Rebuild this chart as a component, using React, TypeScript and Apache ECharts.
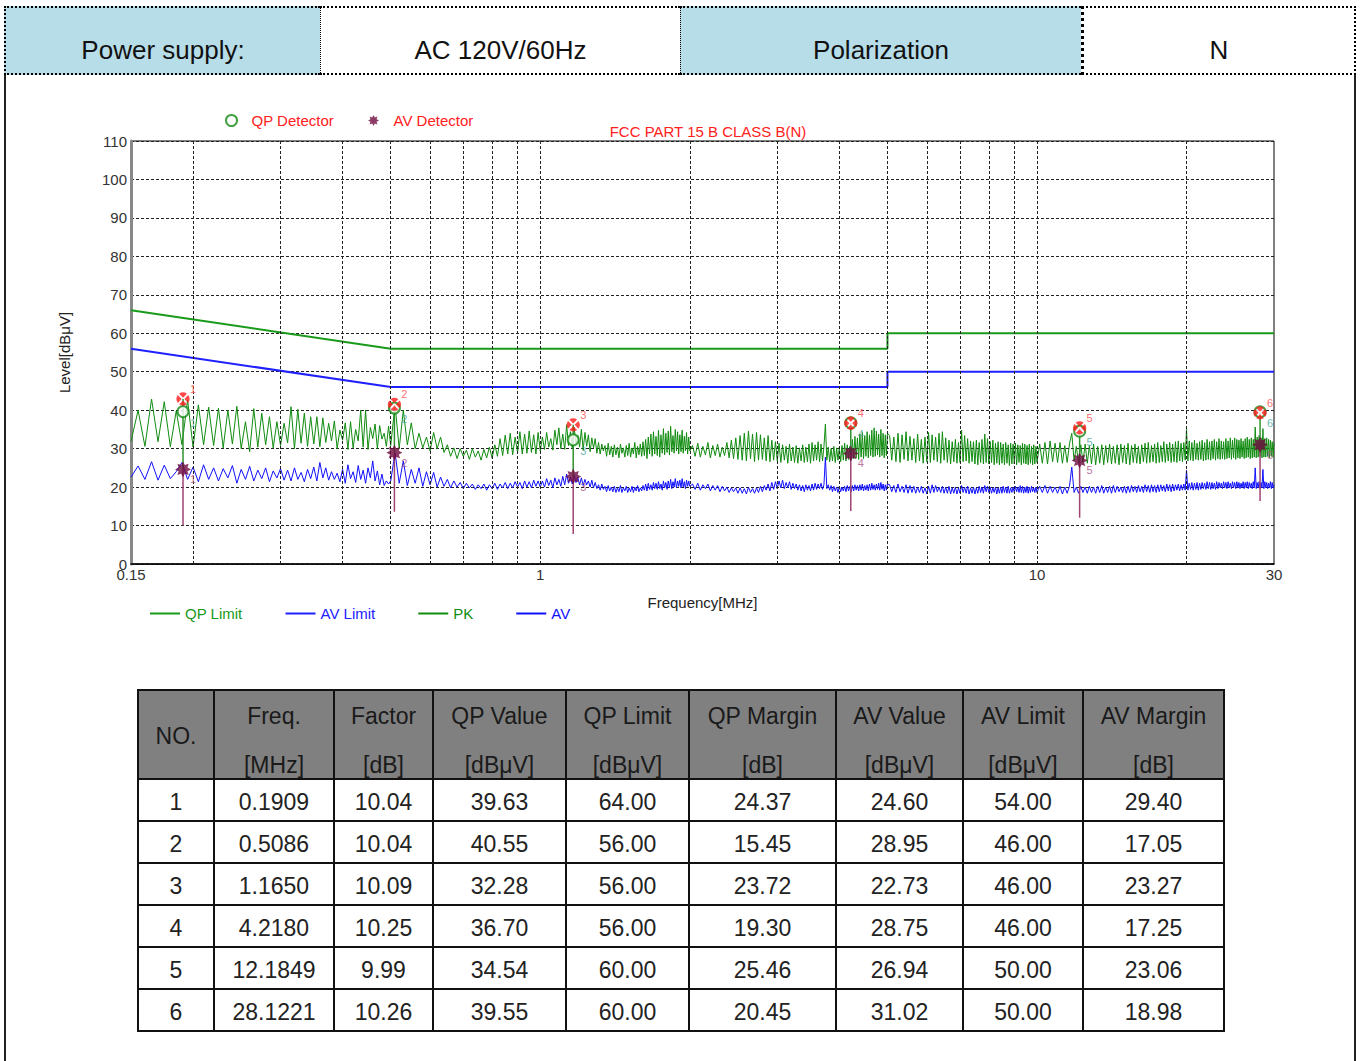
import React, { useEffect, useRef } from "react";
import * as echarts from "echarts";

const FONT = '"Liberation Sans", Arial, sans-serif';

// ---------- header ----------
const HEADER_TEXTS = ["Power supply:", "AC 120V/60Hz", "Polarization", "N"];

// ---------- chart data ----------
const CHART_TITLE = "FCC PART 15 B CLASS B(N)";
const GRID_FREQ = [0.2, 0.3, 0.4, 0.5, 0.6, 0.7, 0.8, 0.9, 1, 2, 3, 4, 5, 6, 7, 8, 9, 10, 20];

const LIMIT_FREQ = [0.15, 0.5, 5, 5, 30];
const QP_LIMIT_LEVEL = [66, 56, 56, 60, 60];
const AV_LIMIT_LEVEL = [56, 46, 46, 50, 50];

const FREQ_A = [
  0.150, 0.155, 0.160, 0.165, 0.170, 0.175, 0.180, 0.185, 0.190, 0.195,
  0.200, 0.205, 0.210, 0.215, 0.220, 0.225, 0.230, 0.235, 0.240, 0.245,
  0.250, 0.255, 0.260, 0.265, 0.270, 0.275, 0.280, 0.285, 0.290, 0.295,
  0.300, 0.305, 0.310, 0.315, 0.320, 0.325, 0.330, 0.335, 0.340, 0.345,
  0.350, 0.355, 0.360, 0.365, 0.370, 0.375, 0.380, 0.385, 0.390, 0.395,
  0.400, 0.405, 0.410, 0.415, 0.420, 0.425, 0.430, 0.435, 0.440, 0.445,
  0.450, 0.455, 0.460, 0.465, 0.470, 0.475, 0.480, 0.485, 0.490, 0.495,
  0.500,
];
const PK_A = [
  31.8, 40.0, 30.6, 42.9, 31.8, 42.2, 30.5, 39.8, 31.0, 42.6,
  30.4, 41.4, 31.0, 40.8, 30.8, 40.5, 30.2, 40.0, 31.2, 41.0,
  30.0, 37.0, 29.2, 40.4, 30.4, 39.2, 31.0, 38.3, 30.2, 37.0,
  30.8, 36.6, 31.5, 40.9, 30.0, 40.2, 31.4, 39.2, 30.6, 38.3,
  31.2, 38.3, 30.5, 38.0, 31.6, 36.6, 32.0, 37.2, 30.0, 34.8,
  32.2, 36.7, 29.8, 37.0, 30.2, 35.0, 32.0, 40.0, 30.4, 40.0,
  29.8, 35.5, 32.6, 36.4, 30.0, 36.0, 32.5, 34.0, 30.6, 35.8,
  30.8,
];
const AV_A = [
  22.6, 25.5, 22.0, 26.6, 21.8, 25.7, 22.2, 24.0, 26.4, 22.0,
  25.2, 21.4, 25.8, 22.0, 25.0, 21.6, 24.8, 22.4, 25.6, 21.0,
  24.6, 22.0, 25.4, 21.6, 24.4, 22.2, 25.0, 21.4, 24.2, 22.4,
  24.8, 21.8, 24.4, 21.6, 25.0, 22.0, 23.8, 21.4, 24.6, 22.2,
  25.2, 21.6, 26.4, 22.4, 25.0, 21.8, 24.0, 22.0, 23.6, 21.4,
  24.6, 21.0, 25.8, 22.2, 24.0, 21.2, 25.6, 22.0, 24.4, 21.0,
  25.0, 22.4, 26.8, 21.6, 24.2, 20.6, 23.4, 20.4, 21.6, 20.8,
  21.6,
];

const FREQ_B = [
  0.51, 0.52, 0.53, 0.54, 0.55, 0.56, 0.57, 0.58, 0.59, 0.60,
  0.61, 0.62, 0.63, 0.64, 0.65, 0.66, 0.67, 0.68, 0.69, 0.70,
  0.71, 0.72, 0.73, 0.74, 0.75, 0.76, 0.77, 0.78, 0.79, 0.80,
  0.81, 0.82, 0.83, 0.84, 0.85, 0.86, 0.87, 0.88, 0.89, 0.90,
  0.91, 0.92, 0.93, 0.94, 0.95, 0.96, 0.97, 0.98, 0.99, 1.00,
];
const PK_B = [
  41.4, 30.0, 40.0, 31.0, 36.7, 30.0, 34.0, 30.2, 33.0, 29.4,
  34.2, 30.0, 33.0, 29.0, 31.0, 28.0, 30.2, 27.4, 30.0, 28.0,
  29.6, 27.2, 30.0, 27.8, 29.4, 27.0, 29.8, 27.6, 30.4, 27.5,
  31.0, 28.0, 32.6, 28.2, 33.5, 28.6, 34.0, 28.4, 33.0, 29.0,
  34.4, 28.6, 33.8, 28.8, 34.6, 29.0, 33.6, 28.6, 34.2, 29.4,
];
const AV_B = [
  28.9, 21.0, 26.8, 20.4, 24.6, 21.0, 25.0, 20.2, 24.0, 20.6,
  23.8, 20.0, 22.6, 20.2, 22.0, 19.8, 21.6, 20.0, 21.2, 19.6,
  21.0, 19.8, 20.8, 19.4, 20.6, 19.6, 20.8, 19.2, 20.6, 19.6,
  21.0, 19.4, 20.8, 19.8, 21.2, 19.6, 21.0, 19.8, 21.4, 20.0,
  21.2, 19.6, 21.6, 20.0, 21.4, 19.8, 21.8, 20.2, 21.6, 20.0,
];

const FREQ_C = [
  1.01, 1.02, 1.03, 1.04, 1.05, 1.06, 1.07, 1.08, 1.09, 1.10,
  1.11, 1.12, 1.13, 1.14, 1.15, 1.16, 1.17, 1.18, 1.19, 1.20,
  1.21, 1.22, 1.23, 1.24, 1.25, 1.26, 1.27, 1.28, 1.29, 1.30,
  1.31, 1.32, 1.33, 1.34, 1.35, 1.36, 1.37, 1.38, 1.39, 1.40,
  1.41, 1.42, 1.43, 1.44, 1.45, 1.46, 1.47, 1.48, 1.49, 1.50,
  1.51, 1.52, 1.53, 1.54, 1.55, 1.56, 1.57, 1.58, 1.59, 1.60,
  1.61, 1.62, 1.63, 1.64, 1.65, 1.66, 1.67, 1.68, 1.69, 1.70,
  1.71, 1.72, 1.73, 1.74, 1.75, 1.76, 1.77, 1.78, 1.79, 1.80,
  1.81, 1.82, 1.83, 1.84, 1.85, 1.86, 1.87, 1.88, 1.89, 1.90,
  1.91, 1.92, 1.93, 1.94, 1.95, 1.96, 1.97, 1.98, 1.99, 2.00,
];
const PK_C = [
  33.0, 29.8, 34.2, 30.4, 32.6, 29.6, 34.8, 31.0, 35.4, 30.0,
  33.8, 29.8, 36.2, 30.8, 34.4, 30.2, 35.6, 31.2, 33.4, 30.4,
  35.0, 29.6, 34.2, 30.6, 33.6, 29.2, 32.8, 30.2, 32.6, 28.8,
  31.6, 28.6, 31.2, 29.4, 30.8, 28.0, 31.4, 28.4, 30.6, 27.8,
  31.0, 28.4, 30.4, 27.6, 31.2, 28.8, 30.2, 27.8, 30.8, 28.2,
  31.4, 27.8, 30.2, 28.6, 31.6, 27.6, 30.6, 28.4, 31.2, 28.0,
  31.8, 28.2, 32.4, 27.4, 33.0, 28.6, 33.8, 28.0, 34.4, 28.6,
  33.2, 28.2, 34.8, 27.8, 33.6, 28.8, 35.2, 28.4, 34.0, 29.0,
  34.6, 28.4, 35.8, 29.2, 33.4, 28.8, 35.0, 29.4, 34.4, 28.6,
  33.6, 29.2, 34.8, 28.8, 33.2, 29.4, 34.2, 28.6, 33.0, 29.4,
];
const AV_C = [
  21.6, 20.0, 22.2, 20.4, 21.8, 19.8, 22.4, 20.6, 22.0, 20.2,
  22.8, 20.6, 23.4, 21.0, 22.6, 20.8, 23.2, 21.2, 22.6, 20.6,
  22.4, 20.4, 22.0, 20.6, 21.6, 20.0, 21.8, 19.8, 21.2, 19.6,
  20.6, 19.2, 20.8, 19.4, 20.2, 18.8, 20.4, 19.0, 20.0, 18.8,
  20.2, 18.6, 19.8, 18.8, 20.4, 18.6, 19.8, 19.0, 20.2, 18.6,
  19.8, 18.8, 20.2, 18.6, 20.0, 19.0, 20.4, 18.8, 19.8, 19.0,
  20.4, 19.2, 20.8, 19.0, 21.0, 19.4, 20.6, 19.2, 21.2, 19.6,
  21.0, 19.4, 21.4, 19.6, 20.8, 19.2, 21.6, 19.8, 21.2, 19.4,
  21.6, 19.8, 22.0, 19.6, 21.4, 20.0, 22.2, 19.8, 21.6, 20.2,
  21.8, 19.8, 22.2, 20.0, 21.4, 19.6, 21.8, 20.2, 21.6, 20.2,
];

const FREQ_D = [
  2.025, 2.050, 2.075, 2.100, 2.125, 2.150, 2.175, 2.200, 2.225, 2.250,
  2.275, 2.300, 2.325, 2.350, 2.375, 2.400, 2.425, 2.450, 2.475, 2.500,
  2.525, 2.550, 2.575, 2.600, 2.625, 2.650, 2.675, 2.700, 2.725, 2.750,
  2.775, 2.800, 2.825, 2.850, 2.875, 2.900, 2.925, 2.950, 2.975, 3.000,
  3.025, 3.050, 3.075, 3.100, 3.125, 3.150, 3.175, 3.200, 3.225, 3.250,
  3.275, 3.300, 3.325, 3.350, 3.375, 3.400, 3.425, 3.450, 3.475, 3.500,
  3.525, 3.550, 3.575, 3.600, 3.625, 3.650, 3.675, 3.700, 3.725, 3.750,
  3.775, 3.800, 3.825, 3.850, 3.875, 3.900, 3.925, 3.950, 3.975, 4.000,
  4.025, 4.050, 4.075, 4.100, 4.125, 4.150, 4.175, 4.200, 4.225, 4.250,
  4.275, 4.300, 4.325, 4.350, 4.375, 4.400, 4.425, 4.450, 4.475, 4.500,
  4.525, 4.550, 4.575, 4.600, 4.625, 4.650, 4.675, 4.700, 4.725, 4.750,
  4.775, 4.800, 4.825, 4.850, 4.875, 4.900, 4.925, 4.950, 4.975, 5.000,
];
const PK_D = [
  30.8, 28.0, 31.4, 27.8, 30.6, 28.4, 31.6, 27.6, 30.8, 28.2,
  31.2, 27.8, 30.4, 28.2, 31.6, 27.6, 32.2, 27.4, 32.8, 27.2,
  33.4, 27.0, 34.0, 26.8, 34.6, 27.4, 33.8, 26.6, 34.2, 27.0,
  33.6, 27.2, 32.8, 26.8, 33.4, 26.6, 32.2, 27.0, 31.8, 26.8,
  31.4, 26.4, 31.0, 27.0, 30.6, 26.2, 31.2, 26.8, 30.4, 26.4,
  30.8, 26.2, 30.2, 26.8, 31.0, 26.4, 30.4, 26.6, 31.2, 26.2,
  31.6, 26.8, 31.0, 27.0, 31.8, 26.6, 31.2, 26.8, 30.6, 36.4,
  27.0, 30.4, 26.6, 30.0, 26.8, 30.6, 26.4, 30.2, 27.0, 30.4,
  26.6, 30.8, 27.0, 31.4, 26.8, 31.0, 27.2, 30.6, 27.0, 32.4,
  27.4, 33.2, 27.6, 32.8, 27.2, 33.8, 27.8, 34.2, 27.4, 33.4,
  28.0, 34.4, 27.6, 33.6, 28.2, 34.8, 27.8, 35.4, 28.0, 34.6,
  28.4, 33.8, 27.8, 35.0, 28.2, 34.0, 27.6, 33.6, 28.2, 34.0,
];
const AV_D = [
  20.8, 19.4, 21.0, 19.2, 20.6, 19.6, 20.8, 19.0, 20.4, 19.2,
  20.4, 18.8, 20.2, 19.0, 20.0, 18.6, 19.8, 18.8, 19.8, 18.4,
  19.8, 18.4, 19.6, 18.2, 20.0, 18.6, 19.6, 18.4, 19.8, 18.6,
  20.2, 18.8, 20.4, 19.2, 20.8, 19.0, 21.2, 19.4, 21.4, 19.6,
  21.6, 19.8, 21.8, 19.6, 21.2, 19.8, 21.4, 19.4, 21.0, 19.6,
  20.8, 19.2, 20.6, 19.0, 20.4, 18.8, 20.6, 19.2, 20.4, 19.0,
  20.8, 19.2, 21.0, 19.4, 20.8, 19.6, 21.0, 19.4, 20.6, 27.8,
  19.6, 20.6, 19.2, 20.4, 18.8, 20.2, 19.0, 20.0, 18.6, 20.2,
  18.8, 20.0, 19.0, 20.2, 18.8, 20.4, 19.0, 20.2, 18.8, 20.4,
  19.0, 20.6, 19.2, 20.4, 19.0, 20.6, 19.2, 20.8, 19.0, 20.4,
  19.2, 20.6, 19.0, 20.8, 19.2, 21.0, 19.4, 20.6, 19.2, 20.8,
  19.4, 21.0, 19.2, 21.2, 19.4, 20.8, 19.0, 20.6, 19.2, 20.8,
];

const FREQ_E = [
  5.05, 5.10, 5.15, 5.20, 5.25, 5.30, 5.35, 5.40, 5.45, 5.50,
  5.55, 5.60, 5.65, 5.70, 5.75, 5.80, 5.85, 5.90, 5.95, 6.00,
  6.05, 6.10, 6.15, 6.20, 6.25, 6.30, 6.35, 6.40, 6.45, 6.50,
  6.55, 6.60, 6.65, 6.70, 6.75, 6.80, 6.85, 6.90, 6.95, 7.00,
  7.05, 7.10, 7.15, 7.20, 7.25, 7.30, 7.35, 7.40, 7.45, 7.50,
  7.55, 7.60, 7.65, 7.70, 7.75, 7.80, 7.85, 7.90, 7.95, 8.00,
  8.05, 8.10, 8.15, 8.20, 8.25, 8.30, 8.35, 8.40, 8.45, 8.50,
  8.55, 8.60, 8.65, 8.70, 8.75, 8.80, 8.85, 8.90, 8.95, 9.00,
  9.05, 9.10, 9.15, 9.20, 9.25, 9.30, 9.35, 9.40, 9.45, 9.50,
  9.55, 9.60, 9.65, 9.70, 9.75, 9.80, 9.85, 9.90, 9.95, 10.00,
];
const PK_E = [
  33.4, 27.0, 33.0, 26.6, 34.0, 26.4, 33.6, 27.2, 34.4, 26.8,
  33.2, 27.0, 32.6, 26.4, 33.8, 26.8, 32.4, 26.2, 33.0, 26.6,
  34.2, 26.4, 33.6, 27.0, 33.0, 26.6, 34.0, 26.2, 34.4, 27.0,
  32.8, 26.4, 32.2, 26.0, 31.8, 26.6, 32.4, 26.2, 31.6, 26.4,
  34.8, 26.6, 33.4, 26.8, 32.6, 26.2, 32.0, 26.6, 31.8, 26.0,
  32.2, 25.8, 31.6, 26.4, 32.4, 26.0, 33.8, 26.4, 32.6, 26.0,
  31.8, 26.4, 32.2, 25.8, 31.4, 26.2, 31.8, 25.8, 31.6, 26.2,
  31.2, 25.8, 31.6, 26.2, 31.0, 25.6, 31.4, 26.0, 31.2, 26.0,
  31.4, 25.8, 31.0, 26.4, 30.8, 25.8, 31.4, 26.2, 31.2, 26.0,
  30.8, 25.8, 31.2, 26.2, 30.6, 25.8, 31.0, 26.0, 30.6, 26.4,
];
const AV_E = [
  20.6, 18.8, 20.4, 18.6, 20.8, 18.8, 20.2, 18.6, 20.6, 18.4,
  20.4, 18.6, 20.2, 18.4, 20.0, 18.6, 20.2, 18.4, 19.8, 18.2,
  20.2, 18.4, 20.6, 18.6, 20.4, 18.8, 20.0, 18.6, 20.2, 18.4,
  20.0, 18.4, 20.2, 18.2, 19.8, 18.4, 20.0, 18.2, 19.8, 18.4,
  20.4, 18.6, 20.0, 18.4, 20.2, 18.2, 19.8, 18.4, 20.0, 18.2,
  19.8, 18.4, 20.2, 18.6, 20.0, 18.4, 20.4, 18.8, 20.2, 18.6,
  20.0, 18.4, 19.8, 18.6, 20.0, 18.2, 19.8, 18.4, 20.0, 18.4,
  20.2, 18.6, 20.0, 18.4, 20.2, 18.4, 19.8, 18.6, 20.0, 18.6,
  20.2, 18.8, 20.0, 18.6, 20.4, 18.6, 20.2, 18.4, 20.0, 18.6,
  20.2, 18.4, 20.0, 18.6, 20.2, 18.8, 19.8, 18.6, 20.0, 18.6,
];

const FREQ_F = [
  10.125, 10.250, 10.375, 10.500, 10.625, 10.750, 10.875, 11.000, 11.125, 11.250,
  11.375, 11.500, 11.625, 11.750, 11.875, 12.000, 12.125, 12.250, 12.375, 12.500,
  12.625, 12.750, 12.875, 13.000, 13.125, 13.250, 13.375, 13.500, 13.625, 13.750,
  13.875, 14.000, 14.125, 14.250, 14.375, 14.500, 14.625, 14.750, 14.875, 15.000,
  15.125, 15.250, 15.375, 15.500, 15.625, 15.750, 15.875, 16.000, 16.125, 16.250,
  16.375, 16.500, 16.625, 16.750, 16.875, 17.000, 17.125, 17.250, 17.375, 17.500,
  17.625, 17.750, 17.875, 18.000, 18.125, 18.250, 18.375, 18.500, 18.625, 18.750,
  18.875, 19.000, 19.125, 19.250, 19.375, 19.500, 19.625, 19.750, 19.875, 20.000,
  20.125, 20.250, 20.375, 20.500, 20.625, 20.750, 20.875, 21.000, 21.125, 21.250,
  21.375, 21.500, 21.625, 21.750, 21.875, 22.000, 22.125, 22.250, 22.375, 22.500,
  22.625, 22.750, 22.875, 23.000, 23.125, 23.250, 23.375, 23.500, 23.625, 23.750,
  23.875, 24.000, 24.125, 24.250, 24.375, 24.500, 24.625, 24.750, 24.875, 25.000,
  25.125, 25.250, 25.375, 25.500, 25.625, 25.750, 25.875, 26.000, 26.125, 26.250,
  26.375, 26.500, 26.625, 26.750, 26.875, 27.000, 27.125, 27.250, 27.375, 27.500,
  27.625, 27.750, 27.875, 28.000, 28.125, 28.250, 28.375, 28.500, 28.625, 28.750,
  28.875, 29.000, 29.125, 29.250, 29.375, 29.500, 29.625, 29.750, 29.875, 30.000,
];
const PK_F = [
  31.2, 26.2, 31.6, 26.0, 32.0, 26.6, 31.4, 26.4, 31.6, 26.2,
  30.8, 26.4, 31.2, 34.0, 26.8, 30.6, 26.2, 31.0, 26.4, 31.2,
  26.2, 30.8, 26.0, 31.2, 25.8, 30.6, 26.2, 31.0, 25.8, 30.8,
  26.4, 31.2, 26.0, 30.6, 26.2, 31.0, 25.8, 31.2, 26.4, 30.8,
  26.0, 31.4, 25.8, 30.8, 26.4, 31.2, 26.2, 30.6, 26.0, 31.0,
  26.6, 31.4, 26.2, 31.6, 26.4, 30.8, 26.6, 31.2, 26.2, 31.6,
  26.4, 30.8, 26.6, 31.8, 26.4, 31.2, 26.8, 31.6, 26.4, 31.2,
  26.6, 31.8, 26.4, 32.0, 26.8, 31.4, 26.6, 31.6, 27.0, 35.0,
  26.8, 32.0, 27.0, 31.6, 26.8, 32.2, 27.2, 31.4, 27.0, 31.8,
  27.2, 32.2, 26.8, 31.6, 27.0, 32.4, 27.2, 31.8, 27.0, 32.0,
  27.4, 32.4, 27.0, 31.8, 27.4, 32.6, 27.2, 32.0, 27.4, 31.8,
  27.2, 32.6, 27.4, 32.0, 27.6, 32.8, 27.2, 32.2, 27.6, 32.8,
  27.2, 32.4, 27.6, 32.2, 27.4, 32.6, 27.8, 32.0, 27.4, 32.6,
  27.6, 33.0, 27.8, 32.4, 27.4, 32.8, 27.6, 32.4, 27.8, 35.6,
  27.6, 33.0, 27.8, 33.4, 28.0, 32.8, 27.6, 35.2, 27.8, 32.6,
  27.8, 32.8, 28.0, 32.4, 27.6, 32.2, 28.0, 31.8, 27.8, 31.6,
];
const AV_F = [
  20.2, 18.6, 20.4, 18.4, 20.2, 18.6, 20.0, 18.4, 20.2, 18.2,
  20.0, 18.4, 20.2, 25.2, 18.6, 20.0, 18.4, 20.2, 18.6, 20.0,
  18.4, 20.2, 18.6, 20.0, 18.4, 20.2, 18.6, 20.4, 18.4, 20.0,
  18.6, 20.2, 18.4, 20.4, 18.6, 20.2, 18.8, 20.0, 18.6, 20.2,
  18.4, 20.2, 18.6, 20.4, 18.8, 20.2, 18.6, 20.4, 18.8, 20.2,
  18.6, 20.6, 18.8, 20.4, 18.6, 20.6, 18.8, 20.4, 18.6, 20.6,
  18.8, 20.6, 19.0, 20.4, 18.8, 20.8, 19.0, 20.6, 18.8, 20.8,
  19.0, 20.6, 19.2, 20.8, 19.0, 20.6, 19.2, 20.8, 19.2, 24.4,
  19.2, 21.0, 19.4, 21.2, 19.2, 21.0, 19.4, 21.2, 19.2, 21.0,
  19.4, 21.2, 19.6, 21.0, 19.4, 21.4, 19.6, 21.2, 19.4, 21.2,
  19.6, 21.0, 19.4, 21.4, 19.6, 21.2, 19.8, 21.0, 19.6, 21.4,
  19.8, 21.2, 19.6, 21.4, 19.8, 21.0, 19.6, 21.4, 19.8, 21.2,
  19.6, 21.4, 19.8, 21.2, 19.6, 21.0, 19.8, 21.4, 19.6, 21.2,
  19.8, 21.4, 19.6, 21.2, 19.8, 21.0, 19.6, 21.4, 19.8, 25.0,
  19.6, 21.2, 19.8, 21.4, 19.6, 21.2, 19.8, 24.6, 19.6, 21.4,
  19.8, 21.2, 19.6, 21.0, 19.8, 21.4, 19.6, 21.2, 19.8, 20.6,
];

const SCAN_FREQ = [...FREQ_A, ...FREQ_B, ...FREQ_C, ...FREQ_D, ...FREQ_E, ...FREQ_F];
const PK_LEVEL = [...PK_A, ...PK_B, ...PK_C, ...PK_D, ...PK_E, ...PK_F];
const AV_LEVEL = [...AV_A, ...AV_B, ...AV_C, ...AV_D, ...AV_E, ...AV_F];

// ---------- final measurement points ----------
const MARK_NO = [1, 2, 3, 4, 5, 6];
const MARK_FREQ = [0.1909, 0.5086, 1.165, 4.218, 12.1849, 28.1221];
const MARK_PK = [42.9, 41.5, 36.2, 36.6, 35.4, 39.3];
const MARK_QP = [39.63, 40.55, 32.28, 36.7, 34.54, 39.55];
const MARK_AV = [24.6, 28.95, 22.73, 28.75, 26.94, 31.02];
const MARK_STEM_END = [10.0, 13.6, 7.8, 13.8, 12.0, 16.4];

// ---------- table ----------
const TABLE_HEAD_TOP = ["NO.", "Freq.", "Factor", "QP Value", "QP Limit", "QP Margin", "AV Value", "AV Limit", "AV Margin"];
const TABLE_HEAD_UNIT = ["", "[MHz]", "[dB]", "[dBμV]", "[dBμV]", "[dB]", "[dBμV]", "[dBμV]", "[dB]"];
const T_FREQ = ["0.1909", "0.5086", "1.1650", "4.2180", "12.1849", "28.1221"];
const T_FACTOR = ["10.04", "10.04", "10.09", "10.25", "9.99", "10.26"];
const T_QP_VALUE = ["39.63", "40.55", "32.28", "36.70", "34.54", "39.55"];
const T_QP_LIMIT = ["64.00", "56.00", "56.00", "56.00", "60.00", "60.00"];
const T_QP_MARGIN = ["24.37", "15.45", "23.72", "19.30", "25.46", "20.45"];
const T_AV_VALUE = ["24.60", "28.95", "22.73", "28.75", "26.94", "31.02"];
const T_AV_LIMIT = ["54.00", "46.00", "46.00", "46.00", "50.00", "50.00"];
const T_AV_MARGIN = ["29.40", "17.05", "23.27", "17.25", "23.06", "18.98"];

const COL_WIDTHS = [76, 120, 99, 133, 123, 147, 127, 120, 141];

const PK_MARK_SYMBOL =
  "path://M10 8.6L6.09 4.81A6.5 6.5 0 0 1 13.91 4.81Z M11.4 10L15.19 6.09A6.5 6.5 0 0 1 15.19 13.91Z M10 11.4L13.91 15.19A6.5 6.5 0 0 1 6.09 15.19Z M8.6 10L4.81 13.91A6.5 6.5 0 0 1 4.81 6.09Z";
const STAR_SYMBOL =
  "path://M20 10L15.54 12.3L17.07 17.07L12.3 15.54L10 20L7.7 15.54L2.93 17.07L4.46 12.3L0 10L4.46 7.7L2.93 2.93L7.7 4.46L10 0L12.3 4.46L17.07 2.93L15.54 7.7Z";

const GREEN = "#108c10";
const BLUE = "#1010ff";
const LIMIT_GREEN = "#1a9a1a";
const LIMIT_BLUE = "#2020ff";

function buildOption() {
  const pk = SCAN_FREQ.map((f, i) => [f, PK_LEVEL[i]]);
  const av = SCAN_FREQ.map((f, i) => [f, AV_LEVEL[i]]);
  const qpLim = LIMIT_FREQ.map((f, i) => [f, QP_LIMIT_LEVEL[i]]);
  const avLim = LIMIT_FREQ.map((f, i) => [f, AV_LIMIT_LEVEL[i]]);

  const greenStems = MARK_FREQ.map((f, i) => ({
    type: "line",
    silent: true,
    symbol: "none",
    z: 4,
    data: [[f, MARK_PK[i]], [f, MARK_AV[i]]],
    lineStyle: { color: "#2f922f", width: 1.5 },
  }));
  const purpleStems = MARK_FREQ.map((f, i) => ({
    type: "line",
    silent: true,
    symbol: "none",
    z: 4,
    data: [[f, MARK_AV[i]], [f, MARK_STEM_END[i]]],
    lineStyle: { color: "#a04472", width: 1.5 },
  }));

  const labelBase = { show: true, position: "inside", fontSize: 11, fontFamily: FONT };

  return {
    animation: false,
    backgroundColor: "transparent",
    title: {
      text: CHART_TITLE,
      left: 703,
      top: 39,
      textAlign: "center",
      textStyle: { color: "#ff2020", fontSize: 15, fontWeight: "normal", fontFamily: FONT },
    },
    legend: [
      {
        data: [
          { name: "QP Detector", icon: "emptyCircle" },
          { name: "AV Detector", icon: STAR_SYMBOL },
        ],
        left: 225,
        top: 33,
        padding: 0,
        itemWidth: 30,
        itemHeight: 11,
        itemGap: 34,
        selectedMode: false,
        textStyle: { color: "#ff2020", fontSize: 15, fontFamily: FONT },
      },
      {
        data: [
          { name: "QP Limit", textStyle: { color: LIMIT_GREEN } },
          { name: "AV Limit", textStyle: { color: LIMIT_BLUE } },
          { name: "PK", textStyle: { color: GREEN } },
          { name: "AV", textStyle: { color: BLUE } },
        ],
        left: 150,
        top: 526,
        padding: 0,
        icon: "rect",
        itemWidth: 30,
        itemHeight: 2,
        itemGap: 43,
        selectedMode: false,
        textStyle: { fontSize: 15, fontFamily: FONT },
      },
    ],
    grid: {
      left: 131,
      top: 61,
      width: 1143,
      height: 423,
      show: true,
      borderColor: "#000",
      borderWidth: 1,
      backgroundColor: "#fff",
      containLabel: false,
    },
    xAxis: {
      type: "log",
      logBase: 10,
      min: 0.15,
      max: 30,
      axisLine: { show: true, lineStyle: { color: "#000", width: 1.5 } },
      axisTick: { show: false },
      splitLine: { show: false },
      axisLabel: {
        color: "#333",
        fontSize: 15,
        fontFamily: FONT,
        margin: 3,
        formatter: (v: number) => String(parseFloat(Number(v).toPrecision(4))),
      },
      name: "Frequency[MHz]",
      nameLocation: "middle",
      nameGap: 31,
      nameTextStyle: { color: "#222", fontSize: 15, fontFamily: FONT },
    },
    yAxis: {
      type: "value",
      min: 0,
      max: 110,
      interval: 10,
      axisLine: { show: true, lineStyle: { color: "#888", width: 3 } },
      axisTick: { show: false },
      axisLabel: { color: "#333", fontSize: 15, fontFamily: FONT, margin: 4 },
      splitLine: { show: true, lineStyle: { color: "#222", type: [3, 2], width: 1 } },
      name: "Level[dBμV]",
      nameLocation: "middle",
      nameGap: 59,
      nameTextStyle: { color: "#222", fontSize: 15, fontFamily: FONT },
    },
    series: [
      {
        type: "line",
        data: [],
        silent: true,
        z: 1,
        markLine: {
          silent: true,
          symbol: ["none", "none"],
          label: { show: false },
          lineStyle: { color: "#222", type: [3, 2], width: 1 },
          data: GRID_FREQ.map((f) => ({ xAxis: f })),
        },
      },
      {
        name: "PK",
        type: "line",
        data: pk,
        symbol: "none",
        silent: true,
        z: 2,
        lineStyle: { color: GREEN, width: 1 },
        itemStyle: { color: GREEN },
      },
      {
        name: "AV",
        type: "line",
        data: av,
        symbol: "none",
        silent: true,
        z: 2,
        lineStyle: { color: BLUE, width: 1 },
        itemStyle: { color: BLUE },
      },
      {
        name: "QP Limit",
        type: "line",
        data: qpLim,
        symbol: "none",
        silent: true,
        z: 3,
        lineStyle: { color: LIMIT_GREEN, width: 2 },
        itemStyle: { color: LIMIT_GREEN },
      },
      {
        name: "AV Limit",
        type: "line",
        data: avLim,
        symbol: "none",
        silent: true,
        z: 3,
        lineStyle: { color: LIMIT_BLUE, width: 2 },
        itemStyle: { color: LIMIT_BLUE },
      },
      ...greenStems,
      ...purpleStems,
      {
        name: "AV Detector",
        type: "scatter",
        z: 5,
        silent: true,
        symbol: STAR_SYMBOL,
        symbolSize: 16,
        itemStyle: { color: "#6e0a3e" },
        data: MARK_FREQ.map((f, i) => [f, MARK_AV[i], MARK_NO[i]]),
        label: { ...labelBase, offset: [10, 10], color: "#a85080", formatter: (p: any) => String(p.value[2]) },
      },
      {
        name: "QP Detector",
        type: "scatter",
        z: 6,
        silent: true,
        symbol: "emptyCircle",
        symbolSize: 11,
        itemStyle: { color: "#138a13", borderWidth: 2 },
        data: MARK_FREQ.map((f, i) => [f, MARK_QP[i], MARK_NO[i]]),
        label: { ...labelBase, offset: [10, 11], color: "#45a89c", formatter: (p: any) => String(p.value[2]) },
      },
      {
        name: "PK Marker",
        type: "scatter",
        z: 7,
        silent: true,
        symbol: PK_MARK_SYMBOL,
        symbolSize: 13,
        itemStyle: { color: "#ff1a1a" },
        data: MARK_FREQ.map((f, i) => [f, MARK_PK[i], MARK_NO[i]]),
        label: { ...labelBase, offset: [10, -10], color: "#ff4a4a", formatter: (p: any) => String(p.value[2]) },
      },
    ],
  };
}

const cellBorder = "2px solid #111";

export default function App() {
  const ref = useRef<HTMLDivElement>(null);

  useEffect(() => {
    if (!ref.current) return;
    const chart = echarts.init(ref.current, null, { renderer: "svg" });
    chart.setOption(buildOption() as any);
    return () => chart.dispose();
  }, []);

  const headerCells = [
    { left: 4, width: 316, fill: "#b7dde8" },
    { left: 320, width: 360, fill: "#ffffff" },
    { left: 680, width: 401, fill: "#b7dde8" },
    { left: 1081, width: 275, fill: "#ffffff" },
  ];

  const rows = MARK_NO.map((n, i) => [
    String(n),
    T_FREQ[i],
    T_FACTOR[i],
    T_QP_VALUE[i],
    T_QP_LIMIT[i],
    T_QP_MARGIN[i],
    T_AV_VALUE[i],
    T_AV_LIMIT[i],
    T_AV_MARGIN[i],
  ]);

  return (
    <div
      style={{
        position: "absolute",
        left: 0,
        top: 0,
        width: 1360,
        height: 1061,
        background: "#fff",
        overflow: "hidden",
        fontFamily: FONT,
      }}
    >
      {/* header band */}
      {headerCells.map((c, i) => (
        <div
          key={i}
          style={{
            position: "absolute",
            left: c.left,
            top: 6,
            width: c.width,
            height: 69,
            boxSizing: "border-box",
            background: c.fill,
            borderTop: "2px dotted #000",
            borderBottom: "2px dotted #000",
            borderLeft: i === 0 ? "2px dotted #000" : i === 3 ? "3px dotted #000" : "1px dotted #000",
            borderRight: i === 3 ? "2px dotted #000" : "none",
          }}
        >
          <div
            style={{
              position: "absolute",
              left: 0,
              right: 0,
              top: 25,
              height: 34,
              lineHeight: "34px",
              textAlign: "center",
              fontSize: 26,
              color: "#111",
            }}
          >
            {HEADER_TEXTS[i]}
          </div>
        </div>
      ))}

      {/* chart */}
      <div ref={ref} style={{ position: "absolute", left: 0, top: 80, width: 1360, height: 560 }} />

      {/* outer frame sides */}
      <div style={{ position: "absolute", left: 4, top: 75, width: 2, height: 986, background: "#222" }} />
      <div style={{ position: "absolute", left: 1354, top: 75, width: 2, height: 986, background: "#222" }} />

      {/* data table */}
      <table
        style={{
          position: "absolute",
          left: 137,
          top: 689,
          width: 1086,
          borderCollapse: "collapse",
          tableLayout: "fixed",
          fontFamily: FONT,
          fontSize: 23,
          color: "#222",
          border: cellBorder,
        }}
      >
        <colgroup>
          {COL_WIDTHS.map((w, i) => (
            <col key={i} style={{ width: w }} />
          ))}
        </colgroup>
        <thead>
          <tr style={{ height: 89, background: "#808080" }}>
            {TABLE_HEAD_TOP.map((h, i) => (
              <th
                key={i}
                style={{
                  border: cellBorder,
                  padding: 0,
                  fontWeight: "normal",
                  color: "#1a1a1a",
                  verticalAlign: i === 0 ? "middle" : "top",
                  textAlign: "center",
                  height: 87,
                  overflow: "visible",
                }}
              >
                {i === 0 ? (
                  <div style={{ lineHeight: "30px", paddingTop: 2 }}>{h}</div>
                ) : (
                  <div style={{ position: "relative", height: 87 }}>
                    <div style={{ position: "absolute", left: 0, right: 0, top: 10, lineHeight: "30px" }}>{h}</div>
                    <div style={{ position: "absolute", left: 0, right: 0, top: 59, lineHeight: "30px" }}>
                      {TABLE_HEAD_UNIT[i]}
                    </div>
                  </div>
                )}
              </th>
            ))}
          </tr>
        </thead>
        <tbody>
          {rows.map((r, ri) => (
            <tr key={ri} style={{ height: 42 }}>
              {r.map((v, ci) => (
                <td
                  key={ci}
                  style={{
                    border: cellBorder,
                    padding: 0,
                    textAlign: "center",
                    verticalAlign: "middle",
                    lineHeight: "26px",
                    paddingTop: 4,
                  }}
                >
                  {v}
                </td>
              ))}
            </tr>
          ))}
        </tbody>
      </table>
    </div>
  );
}
